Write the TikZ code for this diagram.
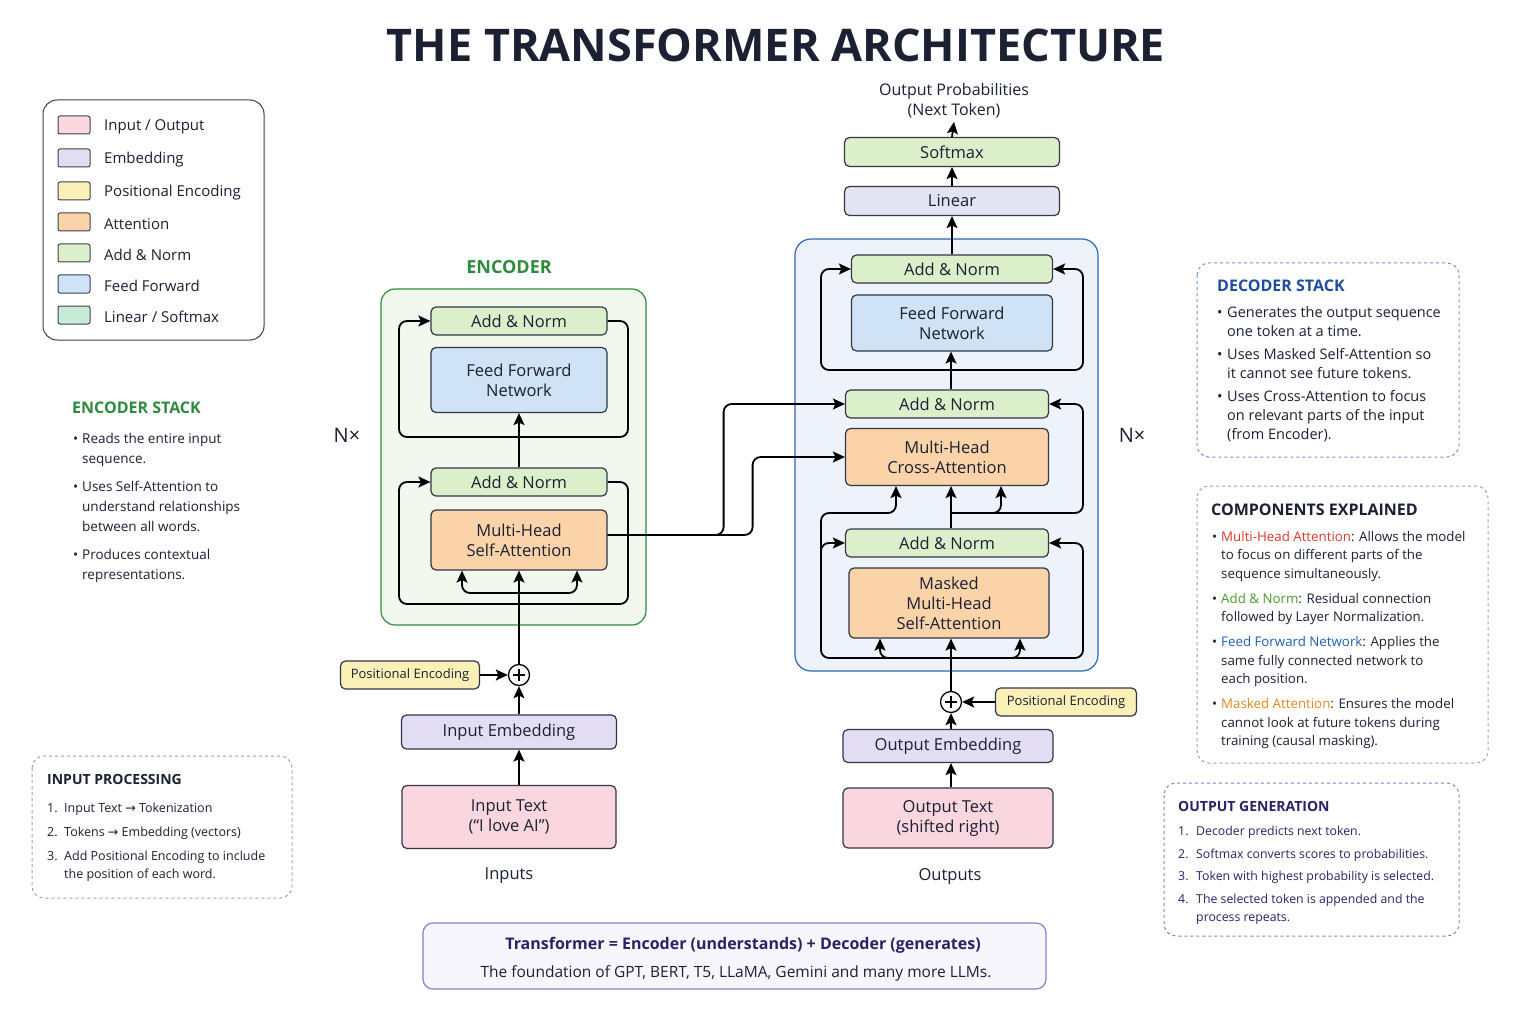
\documentclass[tikz,border=0pt]{standalone}
\usepackage{fontspec}
\setmainfont{Open Sans}
\newfontfamily\djv{DejaVu Sans}
\usetikzlibrary{arrows.meta}
\definecolor{ink}{HTML}{1B2033}
\definecolor{pinkF}{HTML}{FAD6DF}
\definecolor{lavF}{HTML}{E2DDF3}
\definecolor{yelF}{HTML}{FBF0B8}
\definecolor{orgF}{HTML}{FBD3A9}
\definecolor{grnF}{HTML}{DCEFCB}
\definecolor{bluF}{HTML}{CFE2F6}
\definecolor{mntF}{HTML}{C8EBD8}
\definecolor{linF}{HTML}{E3E4F3}
\definecolor{encG}{HTML}{2E8B3E}
\definecolor{encBG}{HTML}{F3F8EF}
\definecolor{decB}{HTML}{2F68B3}
\definecolor{decBG}{HTML}{EEF3FB}
\definecolor{decT}{HTML}{1F4F9A}
\definecolor{cRed}{HTML}{D93A2B}
\definecolor{cGrn}{HTML}{4A9A2E}
\definecolor{cBlu}{HTML}{1F5FB0}
\definecolor{cOrg}{HTML}{E08A1E}
\definecolor{genT}{HTML}{2B2266}
\definecolor{genB}{HTML}{8A79D0}
\definecolor{cmpB}{HTML}{B89A9A}
\definecolor{inpB}{HTML}{9AA3B5}
\definecolor{decD}{HTML}{6F94CF}
\definecolor{botB}{HTML}{8A7FC8}
\definecolor{botBG}{HTML}{F8F6FD}
\newcommand\fs[2]{\fontsize{#1}{#2}\selectfont}
\newcommand\bl[1]{\makebox[#1][l]{•}}
\newcommand\hi[1]{\hspace*{#1}}
\newcommand\rarr{{\djv →}}
\begin{document}
\begin{tikzpicture}[x=1pt,y=-1pt,
  blk/.style={draw=ink!90, line width=1.2pt, rounded corners=5pt, align=center, inner sep=0pt, font=\fs{16.5}{20}, text=ink},
  arr/.style={-{Stealth[length=12pt,width=11pt,inset=2.5pt]}, line width=1.8pt, black},
  arrb/.style={{Stealth[length=12pt,width=11pt,inset=2.5pt]}-{Stealth[length=12pt,width=11pt,inset=2.5pt]}, line width=1.8pt, black},
  ln/.style={rounded corners=8pt},
  swatch/.style={draw=ink!85, line width=1pt, rounded corners=2pt, minimum width=32pt, minimum height=18pt, inner sep=0pt},
  leg/.style={anchor=west, font=\fs{15}{18}, text=ink, inner sep=0pt},
  plus/.style={circle, draw=black, line width=1.3pt, fill=white, minimum size=21pt, inner sep=0pt},
  txt/.style={anchor=north west, align=left, inner sep=0pt, text=ink},
  ttl/.style={anchor=west, inner sep=0pt, font=\bfseries\fs{16}{18}},
  panel/.style={dashed, line width=1pt, rounded corners=12pt, fill=white}
]
\fill[white] (0,0) rectangle (1536,1024);
\useasboundingbox (0,0) rectangle (1536,1024);

% Title
\node[font=\bfseries\fs{45}{50}, text=ink] (title) at (776,45) {THE TRANSFORMER ARCHITECTURE};

% Legend
\draw[draw=ink!85, line width=1pt, rounded corners=14pt, fill=white] (43,100) rectangle (264,340);
\node[swatch, fill=pinkF] (s1) at (74,125) {}; \node[leg] (l1) at (104,127) {Input / Output};
\node[swatch, fill=lavF] (s2) at (74,158) {}; \node[leg] (l2) at (104,160) {Embedding};
\node[swatch, fill=yelF] (s3) at (74,191) {}; \node[leg] (l3) at (104,193) {Positional Encoding};
\node[swatch, fill=orgF] (s4) at (74,222) {}; \node[leg] (l4) at (104,224) {Attention};
\node[swatch, fill=grnF] (s5) at (74,253) {}; \node[leg] (l5) at (104,255) {Add \& Norm};
\node[swatch, fill=bluF] (s6) at (74,284) {}; \node[leg] (l6) at (104,286) {Feed Forward};
\node[swatch, fill=mntF] (s7) at (74,315) {}; \node[leg] (l7) at (104,317) {Linear / Softmax};

% Encoder stack text
\node[ttl, text=encG] (encT) at (72,408) {ENCODER STACK};
\node[txt, font=\fs{13.5}{20}] (encTxt) at (73,433) {\bl{9pt}Reads the entire input\\\hi{9pt}sequence.\\[8pt]
\bl{9pt}Uses Self-Attention to\\\hi{9pt}understand relationships\\\hi{9pt}between all words.\\[8pt]
\bl{9pt}Produces contextual\\\hi{9pt}representations.};

% Input processing panel
\draw[panel, draw=inpB] (32,756) rectangle (292,898);
\node[ttl, text=ink, font=\bfseries\fs{14}{16}] (inpT) at (47,779) {INPUT PROCESSING};
\node[txt, font=\fs{12.5}{18}] (inpTxt) at (47,803) {\makebox[17pt][l]{1.}Input Text \rarr{} Tokenization\\[6pt]
\makebox[17pt][l]{2.}Tokens \rarr{} Embedding (vectors)\\[6pt]
\makebox[17pt][l]{3.}Add Positional Encoding to include\\\hi{17pt}the position of each word.};

% Encoder
\node[font=\bfseries\fs{18}{20}, text=encG] (encL) at (509,267) {ENCODER};
\draw[encG, fill=encBG, line width=1.2pt, rounded corners=14pt] (381,289) rectangle (646,625);
\node[blk, fill=grnF, minimum width=176pt, minimum height=28pt] (eAN2) at (519,321) {Add \& Norm};
\node[blk, fill=bluF, minimum width=176pt, minimum height=65pt] (eFF) at (519,380) {Feed Forward\\Network};
\node[blk, fill=grnF, minimum width=176pt, minimum height=28pt] (eAN1) at (519,482) {Add \& Norm};
\node[blk, fill=orgF, minimum width=176pt, minimum height=60pt] (eMHA) at (519,540) {Multi-Head\\Self-Attention};
\node[font=\fs{20}{22}, text=ink] (eN) at (347,435) {N×};

\node[plus] (ePlus) at (519,675) {};
\draw[line width=1.3pt] ([xshift=-6pt]ePlus.center) -- ([xshift=6pt]ePlus.center) ([yshift=-6pt]ePlus.center) -- ([yshift=6pt]ePlus.center);
\node[blk, fill=yelF, minimum width=139pt, minimum height=28pt, font=\fs{13}{15}] (ePE) at (410,675) {Positional Encoding};
\node[blk, fill=lavF, minimum width=215pt, minimum height=34pt] (eIE) at (509,732) {Input Embedding};
\node[blk, fill=pinkF, minimum width=214pt, minimum height=63pt] (eIT) at (509,817) {Input Text\\(“I love AI”)};
\node[font=\fs{16.5}{20}, text=ink] (inL) at (509,876) {Inputs};

\draw[arr] (eIT.north -| ePlus) -- (eIE.south -| ePlus);
\draw[arr] (eIE.north -| ePlus) -- (ePlus.south);
\draw[arr] (ePE.east) -- (ePlus.west);
\draw[line width=1.8pt, ln] (eAN1.east) -- (628,482) -- (628,604) -- (399,604) -- (399,482) -- ++(10,0);
\draw[arr] (409,482) -- (eAN1.west);
\draw[line width=1.8pt, ln] (eAN2.east) -- (628,321) -- (628,437) -- (399,437) -- (399,321) -- ++(10,0);
\draw[arr] (409,321) -- (eAN2.west);
\draw[arr] (ePlus.north) -- (eMHA.south);
\coordinate (eSplit) at (519,593);
\draw[arr, ln] (eSplit) -| ([xshift=-57pt]eMHA.south);
\draw[arr, ln] (eSplit) -| ([xshift=58pt]eMHA.south);
\draw[arr] (eAN1.north) -- (eFF.south);

% Decoder
\draw[decB, fill=decBG, line width=1.2pt, rounded corners=16pt] (795,239) rectangle (1098,671);
\coordinate (dx) at (951,0);
\node[blk, fill=grnF, minimum width=201pt, minimum height=28pt] (dAN3) at (952,269) {Add \& Norm};
\node[blk, fill=bluF, minimum width=201pt, minimum height=56pt] (dFF) at (952,323) {Feed Forward\\Network};
\node[blk, fill=grnF, minimum width=203pt, minimum height=28pt] (dAN2) at (947,404) {Add \& Norm};
\node[blk, fill=orgF, minimum width=203pt, minimum height=57pt] (dCA) at (947,457) {Multi-Head\\Cross-Attention};
\node[blk, fill=grnF, minimum width=203pt, minimum height=28pt] (dAN1) at (947,543) {Add \& Norm};
\node[blk, fill=orgF, minimum width=200pt, minimum height=70pt] (dMM) at (949,603) {Masked\\Multi-Head\\Self-Attention};
\node[font=\fs{20}{22}, text=ink] (dN) at (1132,435) {N×};

\node[blk, fill=linF, minimum width=215pt, minimum height=29pt] (dLin) at (952,201) {Linear};
\node[blk, fill=grnF, minimum width=215pt, minimum height=29pt] (dSm) at (952,152) {Softmax};
\node[font=\fs{16}{20}, text=ink, align=center] (outP) at (954,101) {Output Probabilities\\(Next Token)};

\node[plus] (dPlus) at (951,702) {};
\draw[line width=1.3pt] ([xshift=-6pt]dPlus.center) -- ([xshift=6pt]dPlus.center) ([yshift=-6pt]dPlus.center) -- ([yshift=6pt]dPlus.center);
\node[blk, fill=yelF, minimum width=141pt, minimum height=28pt, font=\fs{13}{15}] (dPE) at (1066,702) {Positional Encoding};
\node[blk, fill=lavF, minimum width=210pt, minimum height=33pt] (dOE) at (948,746) {Output Embedding};
\node[blk, fill=pinkF, minimum width=210pt, minimum height=60pt] (dOT) at (948,818) {Output Text\\(shifted right)};
\node[font=\fs{16.5}{20}, text=ink] (outL) at (950,876) {Outputs};

\draw[arr] (dOT.north -| dPlus) -- (dOE.south -| dPlus);
\draw[arr] (dOE.north -| dPlus) -- (dPlus.south);
\draw[arr] (dPE.west) -- (dPlus.east);
\draw[arr] (dPlus.north) -- (dMM.south -| dx);
\coordinate (dBot) at (951,658);
\draw[arr, ln] (dBot) -| ([xshift=-69pt]dMM.south);
\draw[arr, ln] (dBot) -| ([xshift=71pt]dMM.south);
\draw[arr, ln] (dBot) -- (1083,658) |- (dAN1.east);
\draw[arr, ln] (dBot) -- (821,658) -- (821,513) -| ([xshift=-51pt]dCA.south);
\draw[arr, ln] (821,570) |- (dAN1.west);
\draw[arr] (dAN1.north -| dx) -- (dCA.south -| dx);
\coordinate (dSplit) at (951,513);
\draw[arr, ln] (dSplit) -| ([xshift=54pt]dCA.south);
\draw[arr, ln] (dSplit) -- (1083,513) |- (dAN2.east);
\draw[arr] (dAN2.north -| dx) -- (dFF.south -| dx);
\draw[arrb, ln] (dAN3.west) -| (821,370) -- (1083,370) |- (dAN3.east);
\draw[arr] (dAN3.north) -- (dLin.south);
\draw[arr] (dLin.north) -- (dSm.south);
\draw[arr] (dSm.north) -- (outP.south);

% cross connections
\draw[arr, ln] ([yshift=5pt]eMHA.east) -- ++(116,0) |- (dAN2.west);
\draw[arr, ln] ([yshift=5pt]eMHA.east) -- ++(145,0) |- (dCA.west);

% Decoder stack panel
\draw[panel, draw=decD, fill=white] (1197,263) rectangle (1459,457);
\node[ttl, text=decT] (decTT) at (1217,286) {DECODER STACK};
\node[txt, font=\fs{14.5}{19}] (decTxt) at (1217,306) {\bl{10pt}Generates the output sequence\\\hi{10pt}one token at a time.\\[4pt]
\bl{10pt}Uses Masked Self-Attention so\\\hi{10pt}it cannot see future tokens.\\[4pt]
\bl{10pt}Uses Cross-Attention to focus\\\hi{10pt}on relevant parts of the input\\\hi{10pt}(from Encoder).};

% Components panel
\draw[panel, draw=cmpB] (1197,486) rectangle (1488,763);
\node[ttl, text=ink] (cmpT) at (1211,510) {COMPONENTS EXPLAINED};
\node[txt, font=\fs{13.3}{18.5}] (cmpTxt) at (1212,531) {\bl{9pt}\textcolor{cRed}{Multi-Head Attention}: Allows the model\\\hi{9pt}to focus on different parts of the\\\hi{9pt}sequence simultaneously.\\[6.5pt]
\bl{9pt}\textcolor{cGrn}{Add \& Norm}: Residual connection\\\hi{9pt}followed by Layer Normalization.\\[6.5pt]
\bl{9pt}\textcolor{cBlu}{Feed Forward Network}: Applies the\\\hi{9pt}same fully connected network to\\\hi{9pt}each position.\\[6.5pt]
\bl{9pt}\textcolor{cOrg}{Masked Attention}: Ensures the model\\\hi{9pt}cannot look at future tokens during\\\hi{9pt}training (causal masking).};

% Output generation panel
\draw[panel, draw=genB] (1164,783) rectangle (1459,936);
\node[ttl, text=genT, font=\bfseries\fs{14}{16}] (genTT) at (1178,806) {OUTPUT GENERATION};
\node[txt, font=\fs{12.3}{18}, text=genT] (genTxt) at (1178,826) {\makebox[18pt][l]{1.}Decoder predicts next token.\\[4.5pt]
\makebox[18pt][l]{2.}Softmax converts scores to probabilities.\\[4.5pt]
\makebox[18pt][l]{3.}Token with highest probability is selected.\\[4.5pt]
\makebox[18pt][l]{4.}The selected token is appended and the\\\hi{18pt}process repeats.};

% Bottom summary
\draw[draw=botB, fill=botBG, line width=1.2pt, rounded corners=10pt] (423,923) rectangle (1046,989);
\node[font=\bfseries\fs{16}{18}, text=genT] (sum1) at (743,945) {Transformer = Encoder (understands) + Decoder (generates)};
\node[font=\fs{15.5}{18}, text=ink] (sum2) at (736,973) {The foundation of GPT, BERT, T5, LLaMA, Gemini and many more LLMs.};
\end{tikzpicture}
\end{document}
